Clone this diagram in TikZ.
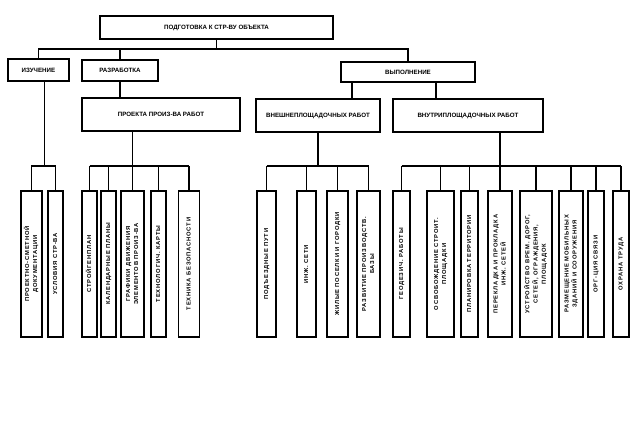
\documentclass[tikz,border=0pt]{standalone}
\usepackage{fontspec}
\usepackage{graphicx}
\setmainfont{Liberation Sans}
\newfontfamily\leaffont{Liberation Sans}[LetterSpace=14]
\begin{document}
\begin{tikzpicture}[x=1pt,y=-1pt,
  hdr/.style={draw=black,line width=1.8pt,rectangle,inner sep=0pt,font=\fontsize{6.2}{7}\selectfont\bfseries},
  leaf/.style={draw=black,line width=1.8pt,rectangle,inner sep=0pt,minimum height=146pt,font=\fontsize{5.8}{8.2}\selectfont\leaffont\bfseries},
  conn/.style={draw=black,line width=1.3pt}]
\fill[white] (0,0) rectangle (640,437);
\useasboundingbox (0,0) rectangle (640,437);
\coordinate (by) at (0,166);
\coordinate (ty) at (0,49);
% headers
\node[hdr,minimum width=233pt,minimum height=23pt] (top) at (216.5,27.5) {ПОДГОТОВКА К СТР-ВУ ОБЪЕКТА};
\node[hdr,minimum width=61pt,minimum height=22pt] (izuch) at (38.5,70) {ИЗУЧЕНИЕ};
\node[hdr,minimum width=76pt,minimum height=21pt] (razr) at (120,70.5) {РАЗРАБОТКА};
\node[hdr,minimum width=134pt,minimum height=20pt] (vyp) at (408,72) {ВЫПОЛНЕНИЕ};
\node[hdr,minimum width=158pt,minimum height=33pt] (proekta) at (161,114.5) {ПРОЕКТА ПРОИЗ-ВА РАБОТ};
\node[hdr,minimum width=124pt,minimum height=33pt] (vneshn) at (318,115.5) {ВНЕШНЕПЛОЩАДОЧНЫХ РАБОТ};
\node[hdr,minimum width=150pt,minimum height=33pt] (vnutri) at (468,115.5) {ВНУТРИПЛОЩАДОЧНЫХ РАБОТ};
% leaves
\newcommand{\lt}[1]{\rotatebox{90}{\begin{tabular}{@{}c@{}}#1\end{tabular}}}
\node[leaf,minimum width=21pt] (L1) at (31.5,264) {\lt{ПРОЕКТНО-СМЕТНОЙ\\ДОКУМЕНТАЦИИ}};
\node[leaf,minimum width=15pt] (L2) at (55.5,264) {\lt{УСЛОВИЯ СТР-ВА}};
\node[leaf,minimum width=15pt] (P1) at (89.5,264) {\lt{СТРОЙГЕНПЛАН}};
\node[leaf,minimum width=15pt] (P2) at (108.5,264) {\lt{КАЛЕНДАРНЫЕ ПЛАНЫ}};
\node[leaf,minimum width=23pt] (P3) at (132.5,264) {\lt{ГРАФИКИ ДВИЖЕНИЯ\\ЭЛЕМЕНТОВ ПРОИЗ-ВА}};
\node[leaf,minimum width=15pt] (P4) at (158.5,264) {\lt{ТЕХНОЛОГИЧ. КАРТЫ}};
\node[leaf,minimum width=21pt] (P5) at (189,264) {\lt{ТЕХНИКА БЕЗОПАСНОСТИ}};
\node[leaf,minimum width=19pt] (E1) at (266.5,264) {\lt{ПОДЪЕЗДНЫЕ ПУТИ}};
\node[leaf,minimum width=19pt] (E2) at (306.5,264) {\lt{ИНЖ. СЕТИ}};
\node[leaf,minimum width=21pt] (E3) at (337.5,264) {\lt{ЖИЛЫЕ ПОСЕЛКИ И ГОРОДКИ}};
\node[leaf,minimum width=23pt] (E4) at (368.5,264) {\lt{РАЗВИТИЕ ПРОИЗВОДСТВ.\\БАЗЫ}};
\node[leaf,minimum width=17pt] (I1) at (401.5,264) {\lt{ГЕОДЕЗИЧ. РАБОТЫ}};
\node[leaf,minimum width=27pt] (I2) at (440.5,264) {\lt{ОСВОБОЖДЕНИЕ СТРОИТ.\\ПЛОЩАДКИ}};
\node[leaf,minimum width=17pt] (I3) at (469.5,264) {\lt{ПЛАНИРОВКА ТЕРРИТОРИИ}};
\node[leaf,minimum width=24pt] (I4) at (500,264) {\lt{ПЕРЕКЛАДКА И ПРОКЛАДКА\\ИНЖ. СЕТЕЙ}};
\node[leaf,minimum width=32pt] (I5) at (536,264) {\lt{УСТРОЙСТВО ВРЕМ. ДОРОГ,\\СЕТЕЙ, ОГРАЖДЕНИЯ,\\ПЛОЩАДОК}};
\node[leaf,minimum width=24pt] (I6) at (571,264) {\lt{РАЗМЕЩЕНИЕ МОБИЛЬНЫХ\\ЗДАНИЙ И СООРУЖЕНИЯ}};
\node[leaf,minimum width=16pt] (I7) at (596,264) {\lt{ОРГ-ЦИЯ СВЯЗИ}};
\node[leaf,minimum width=16pt] (I8) at (621,264) {\lt{ОХРАНА ТРУДА}};
% top level connectors
\draw[conn] (top.south) -- (top.south |- ty);
\draw[conn] (izuch.north) |- (top.south |- ty) -| (vyp.north);
\draw[conn] (razr.north) -- (razr.north |- ty);
\draw[conn] (razr.south) -- (razr.south |- proekta.north);
\draw[conn] ([xshift=-56pt]vyp.south) -- ([xshift=-56pt]vyp.south |- vneshn.north);
\draw[conn] ([xshift=28pt]vyp.south) -- ([xshift=28pt]vyp.south |- vnutri.north);
% group izuch
\draw[conn] ([xshift=6pt]izuch.south) -- ([xshift=6pt]izuch.south |- by);
\draw[conn] (L1.north) |- (L2.north |- by) -- (L2.north);
% group proekta
\draw[conn] (P3.north |- proekta.south) -- (P3.north);
\draw[conn] (P1.north |- by) -- (P5.north |- by);
\foreach \n in {P1,P2,P4,P5} \draw[conn] (\n.north) -- (\n.north |- by);
% group vneshn
\draw[conn] (vneshn.south) -- (vneshn.south |- by);
\draw[conn] (E1.north |- by) -- (E4.north |- by);
\foreach \n in {E1,E2,E3,E4} \draw[conn] (\n.north) -- (\n.north |- by);
% group vnutri
\draw[conn] (I4.north |- vnutri.south) -- (I4.north);
\draw[conn] (I1.north |- by) -- (I8.north |- by);
\foreach \n in {I1,I2,I3,I5,I6,I7,I8} \draw[conn] (\n.north) -- (\n.north |- by);
\end{tikzpicture}
\end{document}
